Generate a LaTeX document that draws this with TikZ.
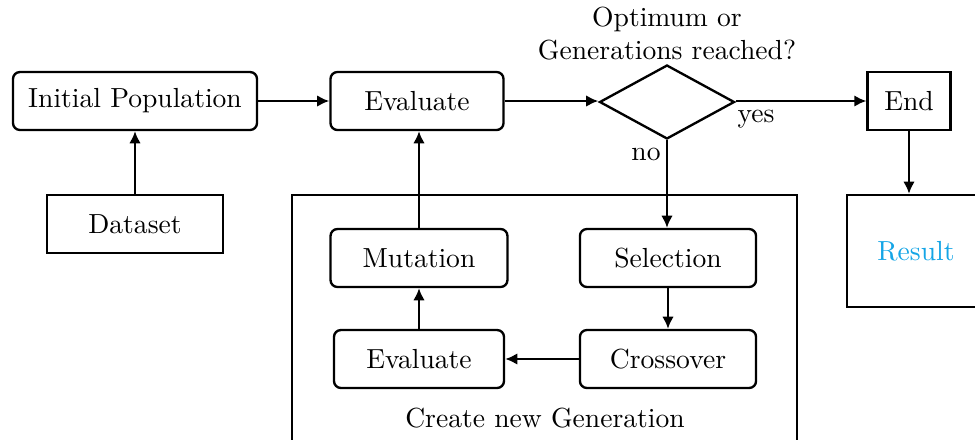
\documentclass[tikz,border=0pt]{standalone}
\usetikzlibrary{arrows.meta,shapes.geometric}
\definecolor{resblue}{RGB}{20,165,230}
\begin{document}
\begin{tikzpicture}[x=0.3623pt,y=-0.3623pt,
  every node/.style={font=\normalsize},
  rbox/.style={draw,line width=0.85pt,rounded corners=2.5pt,minimum height=21pt,inner sep=0pt},
  sbox/.style={draw,line width=0.85pt,minimum height=21pt,inner sep=0pt},
  flow/.style={line width=0.85pt,-{Latex[length=4.4pt,width=4.2pt]}}]
\clip (0,0) rectangle (975,439);
\useasboundingbox (0,0) rectangle (975,439);

% main line
\node[rbox,minimum width=88.4pt] (init) at (135,101) {Initial Population};
\node[sbox,minimum width=63.8pt] (data) at (135,224) {Dataset};
\node[rbox,minimum width=62.7pt] (eval) at (417,101) {Evaluate};
\node[draw,line width=0.85pt,diamond,minimum width=48.9pt,minimum height=26.8pt,inner sep=0pt] (check) at (667,102) {};
\node[align=center,inner sep=0pt] (question) at (667,34) {Optimum or\\Generations reached?};
\node[sbox,minimum width=30pt] (end) at (909,101) {End};
\node[sbox,minimum width=50pt,minimum height=40.6pt,text=resblue] (result) at (916,251) {Result};

% generation loop
\draw[line width=0.85pt] (292,195) rectangle (797,500);
\node[inner sep=0pt] (gen) at (545,418) {Create new Generation};
\node[rbox,minimum width=64.1pt] (mut) at (419,258) {Mutation};
\node[rbox,minimum width=63.8pt] (sel) at (668,258) {Selection};
\node[rbox,minimum width=61.6pt] (eval2) at (419,359) {Evaluate};
\node[rbox,minimum width=63.8pt] (cross) at (668,359) {Crossover};

% connectors
\draw[flow] (init) -- (eval);
\draw[flow] (data) -- (init);
\draw[flow] (eval.east) -- (eval.east -| check.west);
\draw[flow] (check.east |- end.west) -- (end.west);
\node[inner sep=0pt] (yes) at (756,119) {yes};
\draw[flow] (check.south) -- (check.south |- sel.north);
\node[inner sep=0pt] (no) at (646,154) {no};
\draw[flow] (end.south) -- (end.south |- result.north);
\draw[flow] (mut.north) -- (mut.north |- eval.south);
\draw[flow] (sel) -- (cross);
\draw[flow] (cross) -- (eval2);
\draw[flow] (eval2) -- (mut);
\end{tikzpicture}
\end{document}
